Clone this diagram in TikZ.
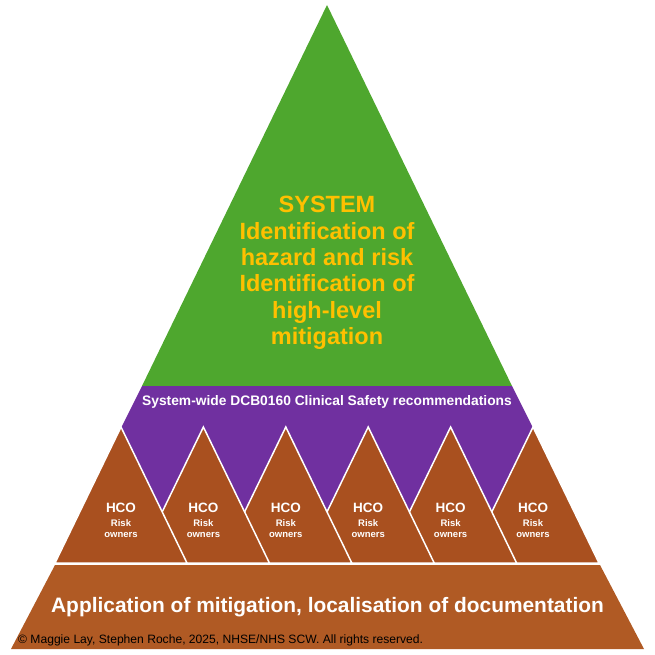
\documentclass[tikz,border=0pt]{standalone}
\usepackage{fontspec}
\setmainfont{Liberation Sans}

\definecolor{sysgreen}{HTML}{4EA72E}
\definecolor{sysgold}{HTML}{FFC000}
\definecolor{recpurple}{HTML}{7030A0}
\definecolor{hcobrown}{HTML}{A9501F}
\definecolor{basebrown}{HTML}{B05A24}

\tikzset{
	hco/.style={fill=hcobrown, draw=white, line width=1.5pt},
	hcolabel/.style={text=white, font=\fontsize{13.5}{15}\selectfont\bfseries},
	risklabel/.style={text=white, align=center, font=\fontsize{9.5}{11.5}\selectfont\bfseries},
}

\begin{document}
\begin{tikzpicture}[x=1pt, y=-1pt]
	\useasboundingbox (0, 0) rectangle (655, 655);

	\fill[sysgreen] (327, 5) -- (512, 386) -- (142, 386) -- cycle; % Вершина: SYSTEM
	\fill[recpurple] (142, 386) -- (512, 386) -- (533, 428) -- (533, 512)
		-- (121, 512) -- (121, 428) -- cycle; % Полоса рекомендаций

	% Треугольники HCO, справа налево
	\draw[hco] (533, 427) -- (599, 563) -- (467, 563) -- cycle;
	\draw[hco] (450.6, 427) -- (516.6, 563) -- (384.6, 563) -- cycle;
	\draw[hco] (368.2, 427) -- (434.2, 563) -- (302.2, 563) -- cycle;
	\draw[hco] (285.8, 427) -- (351.8, 563) -- (219.8, 563) -- cycle;
	\draw[hco] (203.4, 427) -- (269.4, 563) -- (137.4, 563) -- cycle;
	\draw[hco] (121, 427) -- (187, 563) -- (55, 563) -- cycle;

	\fill[basebrown] (55, 565) -- (600, 565) -- (644, 649) -- (11, 649) -- cycle; % Основание

	\node[text=sysgold, align=center, font=\fontsize{23.5}{26.4}\selectfont\bfseries] (system) at (327, 273)
		{SYSTEM\\Identification of\\hazard and risk\\Identification of\\high-level\\mitigation};
	\node[text=white, font=\fontsize{13.8}{15}\selectfont\bfseries] (recs) at (327, 402)
		{System-wide DCB0160 Clinical Safety recommendations};

	\node[hcolabel] (hco1) at (121, 508) {HCO};
	\node[hcolabel] (hco2) at (203.4, 508) {HCO};
	\node[hcolabel] (hco3) at (285.8, 508) {HCO};
	\node[hcolabel] (hco4) at (368.2, 508) {HCO};
	\node[hcolabel] (hco5) at (450.6, 508) {HCO};
	\node[hcolabel] (hco6) at (533, 508) {HCO};

	\node[risklabel] (risk1) at (121, 528.5) {Risk\\owners};
	\node[risklabel] (risk2) at (203.4, 528.5) {Risk\\owners};
	\node[risklabel] (risk3) at (285.8, 528.5) {Risk\\owners};
	\node[risklabel] (risk4) at (368.2, 528.5) {Risk\\owners};
	\node[risklabel] (risk5) at (450.6, 528.5) {Risk\\owners};
	\node[risklabel] (risk6) at (533, 528.5) {Risk\\owners};

	\node[text=white, font=\fontsize{20.9}{24}\selectfont\bfseries] (apply) at (327.5, 607)
		{Application of mitigation, localisation of documentation};
	\node[anchor=west, inner sep=0pt, text=black, font=\fontsize{12.1}{14}\selectfont] (rights) at (18, 640)
		{© Maggie Lay, Stephen Roche, 2025, NHSE/NHS SCW. All rights reserved.};
\end{tikzpicture}
\end{document}
